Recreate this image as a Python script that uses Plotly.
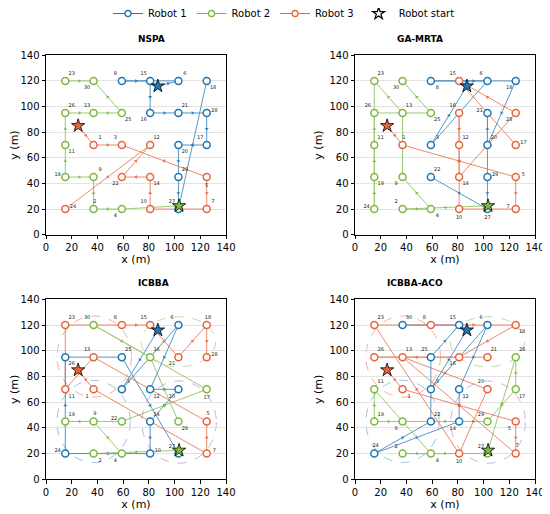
import numpy as np
import plotly.graph_objects as go

# task locations (task id = index + 1)
task_x = [37, 37, 59, 59, 125, 103, 125, 59, 37, 81, 15, 81, 37, 81, 81,
          81, 125, 125, 15, 103, 103, 59, 15, 15, 59, 15, 103, 125, 103, 37]
task_y = [70, 20, 70, 20, 45, 120, 20, 120, 45, 20, 70, 70, 95, 45, 120,
          95, 70, 120, 45, 70, 95, 45, 120, 20, 95, 95, 20, 95, 45, 120]

robot_names = ["Robot 1", "Robot 2", "Robot 3"]
start_x = [87, 103.5, 25]
start_y = [116, 22.5, 85]

methods = ["NSPA", "GA-MRTA", "ICBBA", "ICBBA-ACO"]

# visiting order of each robot (task ids)
routes_nspa = [
    [6, 8, 15, 16, 21, 28, 17, 20, 29, 27, 18],
    [4, 2, 9, 19, 11, 26, 13, 25, 30, 23],
    [1, 3, 5, 7, 10, 14, 22, 12, 24],
]
routes_ga = [
    [3, 6, 8, 18, 20, 21, 29, 27, 22],
    [2, 4, 9, 13, 23, 24, 19, 11, 26, 25, 30],
    [1, 5, 7, 10, 16, 12, 14, 28, 15, 17],
]
routes_icbba = [
    [3, 6, 12, 20, 14, 10, 24, 26, 25, 27],
    [2, 4, 9, 19, 22, 17, 30, 16, 29],
    [1, 7, 5, 13, 11, 23, 8, 15, 21, 18, 28],
]
routes_aco = [
    [3, 6, 12, 14, 24, 22, 25, 15, 30],
    [28, 17, 29, 9, 19, 11, 4, 2, 27],
    [1, 5, 7, 13, 20, 10, 23, 8, 18, 16, 26, 21],
]
all_routes = [routes_nspa, routes_ga, routes_icbba, routes_aco]

# where each task number sits relative to its marker, per method
label_pos_nspa = ["TR", "T", "TL", "BL", "B", "TR", "TR", "TL", "TR", "TL",
                  "BR", "TR", "TL", "BR", "TL", "BL", "TL", "BR", "L", "BR",
                  "TR", "BL", "TR", "R", "BR", "TR", "TL", "R", "TR", "BL"]
label_pos_ga = ["T", "TL", "TR", "BR", "R", "TL", "L", "BR", "BL", "B",
                "TR", "TR", "TR", "BR", "TL", "TL", "R", "BL", "BR", "TR",
                "L", "TR", "TR", "L", "BR", "TL", "B", "BL", "R", "BL"]
label_pos_icbba = ["BL", "BR", "TR", "BL", "T", "TL", "R", "TL", "T", "R",
                   "BR", "BR", "TL", "TR", "TL", "TR", "B", "T", "TR", "BL",
                   "BL", "L", "TR", "L", "TR", "BR", "TL", "R", "BR", "TL"]
label_pos_aco = ["BR", "TL", "TR", "BR", "BL", "TL", "T", "TL", "BL", "B",
                 "TR", "BR", "TR", "BL", "TL", "BL", "BR", "BR", "TR", "TL",
                 "TR", "TR", "TR", "T", "TL", "TR", "TL", "TR", "TL", "TR"]
all_label_pos = [label_pos_nspa, label_pos_ga, label_pos_icbba, label_pos_aco]

# task clusters drawn for the ICBBA variants: centre x, centre y, half width, half height
cluster_cx = [37.5, 103, 37, 103.5]
cluster_cy = [95.5, 107, 45, 44.5]
cluster_rx = [29, 29, 28.5, 29]
cluster_ry = [31.5, 19.5, 32, 32]
cluster_colors = ["rgba(236,110,90,0.55)", "rgba(140,195,90,0.55)",
                  "rgba(70,150,210,0.55)", "rgba(160,120,200,0.55)"]

colors = ["#1f77b4", "#7cb940", "#e8643c"]
# label offset (data units) for each placement code
label_off = {"T": (1, 6), "B": (0, -6.5), "TL": (-5, 5.5), "TR": (5, 5.5),
             "BL": (-5, -5.5), "BR": (5, -5.5), "L": (-6, 2), "R": (6, 2)}

W, H = 550, 514
SH = 8  # page body margin of the html page
x_dom = [[(46 - SH) / W, (226 - SH) / W], [(355 - SH) / W, (535 - SH) / W]]
y_dom = [[1 - (234.7 - SH) / H, 1 - (55.3 - SH) / H],
         [1 - (479.3 - SH) / H, 1 - (299.3 - SH) / H]]

fig = go.Figure()
font = "DejaVu Sans, Arial, sans-serif"
tx = np.array(task_x, dtype=float)
ty = np.array(task_y, dtype=float)

for k, method in enumerate(methods):
    xa = "x" if k == 0 else "x%d" % (k + 1)
    ya = "y" if k == 0 else "y%d" % (k + 1)
    routes = all_routes[k]
    owner = np.zeros(30, dtype=int)
    for r, route in enumerate(routes):
        ids = np.array(route) - 1
        owner[ids] = r
        px = np.concatenate([[start_x[r]], tx[ids]])
        py = np.concatenate([[start_y[r]], ty[ids]])
        fig.add_trace(go.Scatter(
            x=px, y=py, mode="lines", xaxis=xa, yaxis=ya,
            line=dict(color=colors[r], width=1), opacity=0.75,
            showlegend=False, hoverinfo="skip"))
        mx = (px[:-1] + px[1:]) / 2
        my = (py[:-1] + py[1:]) / 2
        ang = np.degrees(np.arctan2(np.diff(px), np.diff(py)))
        fig.add_trace(go.Scatter(
            x=mx, y=my, mode="markers", xaxis=xa, yaxis=ya,
            marker=dict(symbol="triangle-up", size=3.5, color=colors[r],
                        angle=ang, line=dict(width=0)),
            opacity=0.85, showlegend=False, hoverinfo="skip"))

    # task markers coloured by assigned robot
    for r in range(3):
        sel = np.where(owner == r)[0]
        fig.add_trace(go.Scatter(
            x=tx[sel], y=ty[sel], mode="markers", xaxis=xa, yaxis=ya,
            marker=dict(symbol="circle", size=7, color="white",
                        line=dict(color=colors[r], width=1.5)),
            showlegend=False, hoverinfo="skip"))

    # task numbers
    lp = all_label_pos[k]
    dx = np.array([label_off[c][0] for c in lp])
    dy = np.array([label_off[c][1] for c in lp])
    fig.add_trace(go.Scatter(
        x=tx + dx, y=ty + dy, mode="text", xaxis=xa, yaxis=ya,
        text=[str(i + 1) for i in range(30)], textposition="middle center",
        textfont=dict(size=5, color="#222", family=font),
        showlegend=False, hoverinfo="skip"))

    # robot starts
    fig.add_trace(go.Scatter(
        x=start_x, y=start_y, mode="markers", xaxis=xa, yaxis=ya,
        marker=dict(symbol="star", size=10, color=colors,
                    line=dict(color="black", width=0.8)),
        showlegend=False, hoverinfo="skip"))

    if k >= 2:
        for c in range(4):
            fig.add_shape(type="circle", xref=xa, yref=ya, layer="below",
                          x0=cluster_cx[c] - cluster_rx[c], x1=cluster_cx[c] + cluster_rx[c],
                          y0=cluster_cy[c] - cluster_ry[c], y1=cluster_cy[c] + cluster_ry[c],
                          line=dict(color=cluster_colors[c], width=1, dash="dash"))

    ax_common = dict(range=[0, 140], dtick=20, ticks="outside", ticklen=3.5,
                     tickwidth=0.8, tickcolor="black", showline=True,
                     linecolor="black", linewidth=0.8, mirror=True,
                     zeroline=False, tickfont=dict(size=10, family=font, color="black"),
                     fixedrange=True)
    col, row = k % 2, k // 2
    fig.layout[("xaxis" if k == 0 else "xaxis%d" % (k + 1))] = dict(
        ax_common, domain=x_dom[col], anchor=ya, showgrid=False,
        title=dict(text="x (m)", font=dict(size=11, family=font, color="black"), standoff=2))
    fig.layout[("yaxis" if k == 0 else "yaxis%d" % (k + 1))] = dict(
        ax_common, domain=y_dom[row], anchor=xa, showgrid=True,
        gridcolor="#e3e3e3", gridwidth=0.8,
        title=dict(text="y (m)", font=dict(size=11, family=font, color="black"), standoff=4))
    fig.add_annotation(text="<b>%s</b>" % method, xref="paper", yref="paper",
                       x=sum(x_dom[col]) / 2, y=y_dom[row][1] + 16 / H,
                       yanchor="middle",
                       showarrow=False, font=dict(size=9, family=font, color="black"))

# legend entries
for r in range(3):
    fig.add_trace(go.Scatter(
        x=[None], y=[None], mode="lines+markers", name=robot_names[r],
        line=dict(color=colors[r], width=1),
        marker=dict(symbol="circle", size=6, color="white",
                    line=dict(color=colors[r], width=1.3))))
fig.add_trace(go.Scatter(
    x=[None], y=[None], mode="markers", name="Robot start",
    marker=dict(symbol="star", size=9, color="white",
                line=dict(color="black", width=1.2))))

fig.update_layout(
    width=W, height=H, margin=dict(l=0, r=0, t=0, b=0, autoexpand=False),
    paper_bgcolor="white", plot_bgcolor="white",
    font=dict(family=font, color="black"),
    legend=dict(orientation="h", x=(284 - SH) / W, xanchor="center",
                y=1 + 9 / H, yanchor="top",
                font=dict(size=10, family=font), itemwidth=30,
                bgcolor="rgba(0,0,0,0)"),
)

fig.write_html("out.html")
